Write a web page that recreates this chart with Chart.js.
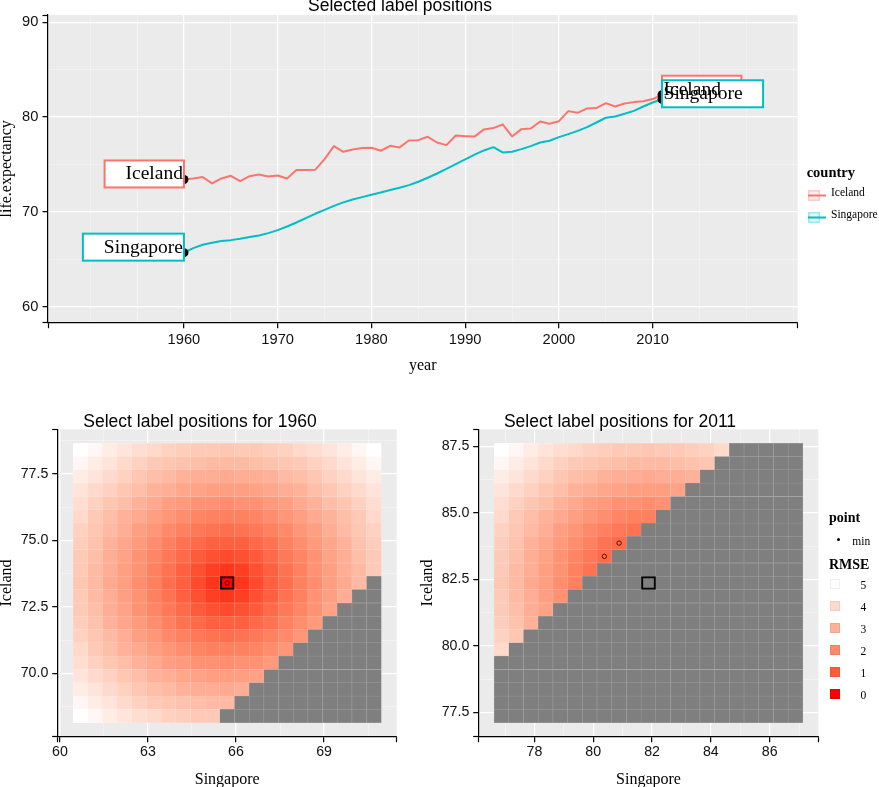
<!DOCTYPE html>
<html>
<head>
<meta charset="utf-8">
<script src="https://cdn.jsdelivr.net/npm/chart.js@4.4.1/dist/chart.umd.min.js"></script>
<style>
  body { margin: 0; background: #fff; width: 879px; height: 787px; position: relative; overflow: hidden; }
  canvas { position: absolute; }
  .t { position: absolute; white-space: nowrap; line-height: 1; color: #000; }
  .sans { font-family: "Liberation Sans", Arial, sans-serif; }
  .serif { font-family: "Liberation Serif", "Times New Roman", serif; }
</style>
</head>
<body>
<canvas id="lineChart" width="879" height="390" style="left:0;top:0"></canvas>
<canvas id="heat1960" width="430" height="387" style="left:0;top:400px"></canvas>
<canvas id="heat2011" width="464" height="387" style="left:415px;top:400px"></canvas>

<div class="t sans" style="left:400px;top:-3px;font-size:17.5px;transform:translateX(-50%)">Selected label positions</div>
<div class="t sans" style="left:200px;top:412.5px;font-size:17.5px;transform:translateX(-50%)">Select label positions for 1960</div>
<div class="t sans" style="left:620px;top:412.5px;font-size:17.5px;transform:translateX(-50%)">Select label positions for 2011</div>
<div id="legendTop"></div>
<div id="legendHeat"></div>

<script>
// life expectancy
const years = [1960, 1961, 1962, 1963, 1964, 1965, 1966, 1967, 1968, 1969,
  1970, 1971, 1972, 1973, 1974, 1975, 1976, 1977, 1978, 1979,
  1980, 1981, 1982, 1983, 1984, 1985, 1986, 1987, 1988, 1989,
  1990, 1991, 1992, 1993, 1994, 1995, 1996, 1997, 1998, 1999,
  2000, 2001, 2002, 2003, 2004, 2005, 2006, 2007, 2008, 2009,
  2010, 2011];
const iceland = [73.42, 73.53, 73.67, 73.00, 73.53, 73.81, 73.25, 73.77, 73.95, 73.74,
  73.84, 73.53, 74.41, 74.41, 74.44, 75.57, 76.94, 76.34, 76.59, 76.73,
  76.76, 76.45, 76.97, 76.80, 77.53, 77.57, 77.92, 77.32, 77.04, 78.06,
  77.99, 77.94, 78.70, 78.84, 79.22, 77.96, 78.73, 78.80, 79.54, 79.29,
  79.57, 80.63, 80.45, 80.91, 80.95, 81.47, 81.12, 81.44, 81.58, 81.68,
  81.90, 82.36];
const singapore = [65.70, 66.18, 66.53, 66.74, 66.92, 67.02, 67.16, 67.34, 67.51, 67.76,
  68.08, 68.46, 68.88, 69.34, 69.80, 70.22, 70.64, 71.00, 71.31, 71.56,
  71.80, 72.05, 72.30, 72.54, 72.82, 73.18, 73.60, 74.05, 74.53, 75.04,
  75.55, 76.04, 76.48, 76.83, 76.27, 76.34, 76.62, 76.94, 77.32, 77.50,
  77.89, 78.20, 78.55, 78.94, 79.43, 79.93, 80.07, 80.35, 80.66, 81.12,
  81.54, 81.88];
const countries = ['Iceland', 'Singapore'];
const countryColors = ['#F8766D', '#00BFC4'];
const labelYears = [1960, 2011];

// top panel axes
const yearRange = [1945.5, 2025.45];
const yearMajor = [1960, 1970, 1980, 1990, 2000, 2010];
const yearMinor = [1950, 1955, 1965, 1975, 1985, 1995, 2005, 2015, 2020, 2025];
const lifeRange = [58.31, 90.77];
const lifeMajor = [60, 70, 80, 90];
const lifeMinor = [65, 75, 85];

// heatmap grids: candidate label positions (Singapore across, Iceland up)
const sing1960 = [60.7, 61.2, 61.7, 62.2, 62.7, 63.2, 63.7, 64.2, 64.7, 65.2, 65.7,
  66.2, 66.7, 67.2, 67.7, 68.2, 68.7, 69.2, 69.7, 70.2, 70.7];
const ice1960 = [68.4, 68.9, 69.4, 69.9, 70.4, 70.9, 71.4, 71.9, 72.4, 72.9, 73.4,
  73.9, 74.4, 74.9, 75.4, 75.9, 76.4, 76.9, 77.4, 77.9, 78.4];
const sing2011 = [76.88, 77.38, 77.88, 78.38, 78.88, 79.38, 79.88, 80.38, 80.88, 81.38, 81.88,
  82.38, 82.88, 83.38, 83.88, 84.38, 84.88, 85.38, 85.88, 86.38, 86.88];
const ice2011 = [77.36, 77.86, 78.36, 78.86, 79.36, 79.86, 80.36, 80.86, 81.36, 81.86, 82.36,
  82.86, 83.36, 83.86, 84.36, 84.86, 85.36, 85.86, 86.36, 86.86, 87.36];

// RMSE per cell, rows from the lowest Iceland value up; NA = grey (not allowed)
const NA = null;
const rmse1960 = [
  [5.0,4.8,4.5,4.3,4.1,4.0,3.8,3.7,3.6,3.6,NA,NA,NA,NA,NA,NA,NA,NA,NA,NA,NA],
  [4.8,4.5,4.3,4.0,3.8,3.6,3.5,3.4,3.3,3.2,3.2,NA,NA,NA,NA,NA,NA,NA,NA,NA,NA],
  [4.5,4.3,4.0,3.8,3.5,3.3,3.2,3.0,2.9,2.9,2.8,2.9,NA,NA,NA,NA,NA,NA,NA,NA,NA],
  [4.3,4.0,3.8,3.5,3.3,3.0,2.9,2.7,2.6,2.5,2.5,2.5,2.6,NA,NA,NA,NA,NA,NA,NA,NA],
  [4.1,3.8,3.5,3.3,3.0,2.8,2.5,2.4,2.2,2.2,2.1,2.2,2.2,2.4,NA,NA,NA,NA,NA,NA,NA],
  [4.0,3.6,3.3,3.0,2.8,2.5,2.3,2.1,1.9,1.8,1.8,1.8,1.9,2.1,2.3,NA,NA,NA,NA,NA,NA],
  [3.8,3.5,3.2,2.9,2.5,2.3,2.0,1.8,1.6,1.5,1.4,1.5,1.6,1.8,2.0,2.3,NA,NA,NA,NA,NA],
  [3.7,3.4,3.0,2.7,2.4,2.1,1.8,1.5,1.3,1.1,1.1,1.1,1.3,1.5,1.8,2.1,2.4,NA,NA,NA,NA],
  [3.6,3.3,2.9,2.6,2.2,1.9,1.6,1.3,1.0,0.8,0.7,0.8,1.0,1.3,1.6,1.9,2.2,2.6,NA,NA,NA],
  [3.6,3.2,2.9,2.5,2.2,1.8,1.5,1.1,0.8,0.5,0.4,0.5,0.8,1.1,1.5,1.8,2.2,2.5,2.9,NA,NA],
  [3.5,3.2,2.8,2.5,2.1,1.8,1.4,1.1,0.7,0.4,0.0,0.4,0.7,1.1,1.4,1.8,2.1,2.5,2.8,3.2,NA],
  [3.6,3.2,2.9,2.5,2.2,1.8,1.5,1.1,0.8,0.5,0.4,0.5,0.8,1.1,1.5,1.8,2.2,2.5,2.9,3.2,3.6],
  [3.6,3.3,2.9,2.6,2.2,1.9,1.6,1.3,1.0,0.8,0.7,0.8,1.0,1.3,1.6,1.9,2.2,2.6,2.9,3.3,3.6],
  [3.7,3.4,3.0,2.7,2.4,2.1,1.8,1.5,1.3,1.1,1.1,1.1,1.3,1.5,1.8,2.1,2.4,2.7,3.0,3.4,3.7],
  [3.8,3.5,3.2,2.9,2.5,2.3,2.0,1.8,1.6,1.5,1.4,1.5,1.6,1.8,2.0,2.3,2.5,2.9,3.2,3.5,3.8],
  [4.0,3.6,3.3,3.0,2.8,2.5,2.3,2.1,1.9,1.8,1.8,1.8,1.9,2.1,2.3,2.5,2.8,3.0,3.3,3.6,4.0],
  [4.1,3.8,3.5,3.3,3.0,2.8,2.5,2.4,2.2,2.2,2.1,2.2,2.2,2.4,2.5,2.8,3.0,3.3,3.5,3.8,4.1],
  [4.3,4.0,3.8,3.5,3.3,3.0,2.9,2.7,2.6,2.5,2.5,2.5,2.6,2.7,2.9,3.0,3.3,3.5,3.8,4.0,4.3],
  [4.5,4.3,4.0,3.8,3.5,3.3,3.2,3.0,2.9,2.9,2.8,2.9,2.9,3.0,3.2,3.3,3.5,3.8,4.0,4.3,4.5],
  [4.8,4.5,4.3,4.0,3.8,3.6,3.5,3.4,3.3,3.2,3.2,3.2,3.3,3.4,3.5,3.6,3.8,4.0,4.3,4.5,4.8],
  [5.0,4.8,4.5,4.3,4.1,4.0,3.8,3.7,3.6,3.6,3.5,3.6,3.6,3.7,3.8,4.0,4.1,4.3,4.5,4.8,5.0]
];
const rmse2011 = [
  [NA,NA,NA,NA,NA,NA,NA,NA,NA,NA,NA,NA,NA,NA,NA,NA,NA,NA,NA,NA,NA],
  [NA,NA,NA,NA,NA,NA,NA,NA,NA,NA,NA,NA,NA,NA,NA,NA,NA,NA,NA,NA,NA],
  [NA,NA,NA,NA,NA,NA,NA,NA,NA,NA,NA,NA,NA,NA,NA,NA,NA,NA,NA,NA,NA],
  [NA,NA,NA,NA,NA,NA,NA,NA,NA,NA,NA,NA,NA,NA,NA,NA,NA,NA,NA,NA,NA],
  [NA,NA,NA,NA,NA,NA,NA,NA,NA,NA,NA,NA,NA,NA,NA,NA,NA,NA,NA,NA,NA],
  [4.0,NA,NA,NA,NA,NA,NA,NA,NA,NA,NA,NA,NA,NA,NA,NA,NA,NA,NA,NA,NA],
  [3.8,3.5,NA,NA,NA,NA,NA,NA,NA,NA,NA,NA,NA,NA,NA,NA,NA,NA,NA,NA,NA],
  [3.7,3.4,3.0,NA,NA,NA,NA,NA,NA,NA,NA,NA,NA,NA,NA,NA,NA,NA,NA,NA,NA],
  [3.6,3.3,2.9,2.6,NA,NA,NA,NA,NA,NA,NA,NA,NA,NA,NA,NA,NA,NA,NA,NA,NA],
  [3.6,3.2,2.9,2.5,2.2,NA,NA,NA,NA,NA,NA,NA,NA,NA,NA,NA,NA,NA,NA,NA,NA],
  [3.5,3.2,2.8,2.5,2.1,1.8,NA,NA,NA,NA,NA,NA,NA,NA,NA,NA,NA,NA,NA,NA,NA],
  [3.6,3.2,2.9,2.5,2.2,1.8,1.5,NA,NA,NA,NA,NA,NA,NA,NA,NA,NA,NA,NA,NA,NA],
  [3.6,3.3,2.9,2.6,2.2,1.9,1.6,1.3,NA,NA,NA,NA,NA,NA,NA,NA,NA,NA,NA,NA,NA],
  [3.7,3.4,3.0,2.7,2.4,2.1,1.8,1.5,1.3,NA,NA,NA,NA,NA,NA,NA,NA,NA,NA,NA,NA],
  [3.8,3.5,3.2,2.9,2.5,2.3,2.0,1.8,1.6,1.5,NA,NA,NA,NA,NA,NA,NA,NA,NA,NA,NA],
  [4.0,3.6,3.3,3.0,2.8,2.5,2.3,2.1,1.9,1.8,1.8,NA,NA,NA,NA,NA,NA,NA,NA,NA,NA],
  [4.1,3.8,3.5,3.3,3.0,2.8,2.5,2.4,2.2,2.2,2.1,2.2,NA,NA,NA,NA,NA,NA,NA,NA,NA],
  [4.3,4.0,3.8,3.5,3.3,3.0,2.9,2.7,2.6,2.5,2.5,2.5,2.6,NA,NA,NA,NA,NA,NA,NA,NA],
  [4.5,4.3,4.0,3.8,3.5,3.3,3.2,3.0,2.9,2.9,2.8,2.9,2.9,3.0,NA,NA,NA,NA,NA,NA,NA],
  [4.8,4.5,4.3,4.0,3.8,3.6,3.5,3.4,3.3,3.2,3.2,3.2,3.3,3.4,3.5,NA,NA,NA,NA,NA,NA],
  [5.0,4.8,4.5,4.3,4.1,4.0,3.8,3.7,3.6,3.6,3.5,3.6,3.6,3.7,3.8,4.0,NA,NA,NA,NA,NA]
];
// actual label positions (square) and best positions (circles)
const selected1960 = {x: 65.7, y: 73.4};
const selected2011 = {x: 81.88, y: 82.36};
const best1960 = [{x: 65.7, y: 73.4}];
const best2011 = [{x: 80.38, y: 83.36}, {x: 80.88, y: 83.86}];

// heatmap axes
const h1SingRange = [59.925, 71.475];
const h1SingMajor = [60, 63, 66, 69];
const h1SingMinor = [61.5, 64.5, 67.5, 70.5];
const h1IceRange = [67.625, 79.175];
const h1IceMajor = [70, 72.5, 75, 77.5];
const h1IceMinor = [68.75, 71.25, 73.75, 76.25, 78.75];
const h2SingRange = [76.105, 87.655];
const h2SingMajor = [78, 80, 82, 84, 86];
const h2SingMinor = [77, 79, 81, 83, 85, 87];
const h2IceRange = [76.585, 88.135];
const h2IceMajor = [77.5, 80, 82.5, 85, 87.5];
const h2IceMinor = [78.75, 81.25, 83.75, 86.25];
const rmseBreaks = [5, 4, 3, 2, 1, 0];

const SANS = '"Liberation Sans", Arial, sans-serif';
const SERIF = '"Liberation Serif", "Times New Roman", serif';

// red (0) -> white (5), interpolated in Lab like ggplot
const RED_LAB = [53.24, 80.09, 67.20];
const WHITE_LAB = [100, 0, 0];
function lab2rgb(L, a, b) {
    const fy = (L + 16) / 116, fx = fy + a / 500, fz = fy - b / 200;
    const f = t => t > 0.206897 ? t * t * t : (t - 16 / 116) / 7.787;
    const X = 0.95047 * f(fx), Y = f(fy), Z = 1.08883 * f(fz);
    const lin = [3.2406 * X - 1.5372 * Y - 0.4986 * Z,
                 -0.9689 * X + 1.8758 * Y + 0.0415 * Z,
                 0.0557 * X - 0.2040 * Y + 1.0570 * Z];
    return lin.map(c => {
        c = Math.max(0, Math.min(1, c));
        return Math.round(255 * (c <= 0.0031308 ? 12.92 * c : 1.055 * Math.pow(c, 1 / 2.4) - 0.055));
    });
}
function rgbFor(v) {
    if (v === null) return [127, 127, 127];
    const t = v / 5;
    return lab2rgb(...RED_LAB.map((r, i) => r + (WHITE_LAB[i] - r) * t));
}
const fillColor = v => `rgb(${rgbFor(v)})`;
const edgeColor = v => `rgb(${rgbFor(v).map(u => Math.round(u + (255 - u) * 0.3))})`;

const near = (a, b) => Math.abs(a - b) < 1e-6;

function makeAxis(o) {
    const isMajor = v => o.major.some(m => near(m, v));
    const isMinor = v => o.minor.some(m => near(m, v));
    const tv = c => c.tick ? c.tick.value : NaN;
    return {
        type: 'linear',
        min: o.range[0],
        max: o.range[1],
        offset: false,
        stacked: o.stacked,
        afterBuildTicks: s => {
            s.ticks = [o.range[0], ...o.minor, ...o.major, o.range[1]]
                .sort((a, b) => a - b).map(v => ({value: v}));
        },
        afterFit: s => { if (o.isX) s.height = o.size; else s.width = o.size; },
        grid: {
            offset: false,
            color: c => isMajor(tv(c)) ? '#ffffff' : isMinor(tv(c)) ? 'rgba(255,255,255,0.55)' : 'rgba(0,0,0,0)',
            lineWidth: c => isMajor(tv(c)) ? 1.3 : 0.7,
            tickColor: c => isMinor(tv(c)) ? 'rgba(0,0,0,0)' : '#000',
            tickWidth: 1.2,
            tickLength: 5.5,
            drawTicks: true
        },
        border: {display: true, color: '#000', width: 1.2},
        ticks: {
            autoSkip: false, maxRotation: 0, padding: o.pad, color: '#111',
            font: {family: SANS, size: o.fontSize},
            callback: v => isMajor(v) ? o.fmt(v) : ''
        },
        title: {
            display: true, text: o.title, color: '#000',
            font: {family: SERIF, size: 16, lineHeight: o.titleLH},
            padding: o.titlePad
        }
    };
}

const panelBg = {
    id: 'panelBg',
    beforeDraw(chart) {
        const {ctx, chartArea: a} = chart;
        ctx.save();
        ctx.fillStyle = '#EBEBEB';
        ctx.fillRect(a.left, a.top, a.width, a.height);
        ctx.restore();
    }
};

// boxed direct labels at the first and last year
const labelBoxes = {
    id: 'labelBoxes',
    afterDatasetsDraw(chart) {
        const {ctx, scales: {x, y}} = chart;
        const series = [iceland, singapore];
        ctx.save();
        ctx.font = '19.5px ' + SERIF;
        const items = [];
        labelYears.forEach((yr, j) => {
            const i = years.indexOf(yr);
            series.forEach((s, c) => {
                const px = x.getPixelForValue(yr), py = y.getPixelForValue(s[i]);
                const w = ctx.measureText(countries[c]).width + 22;
                items.push({c, px, py, w, first: j === 0, left: j === 0 ? px - w : px});
            });
        });
        items.forEach(it => {
            ctx.fillStyle = '#fff';
            ctx.fillRect(it.left, it.py - 19, it.w, 27);
            ctx.strokeStyle = countryColors[it.c];
            ctx.lineWidth = 2;
            ctx.strokeRect(it.left, it.py - 19, it.w, 27);
        });
        ctx.fillStyle = '#000';
        ctx.textBaseline = 'alphabetic';
        items.forEach(it => {
            ctx.textAlign = it.first ? 'right' : 'left';
            ctx.fillText(countries[it.c], it.first ? it.px - 1 : it.px + 1.5, it.py);
        });
        ctx.restore();
    }
};

const labelPoints = labelYears.flatMap(yr =>
    [iceland, singapore].map(s => ({x: yr, y: s[years.indexOf(yr)]})));

new Chart(document.getElementById('lineChart'), {
    type: 'line',
    data: {
        datasets: [
            {
                type: 'scatter', label: 'label points', data: labelPoints,
                pointRadius: 4.5, pointBackgroundColor: '#000', pointBorderWidth: 0, order: 0
            },
            {
                label: 'Singapore', data: years.map((yr, i) => ({x: yr, y: singapore[i]})),
                borderColor: countryColors[1], borderWidth: 2, pointRadius: 0, tension: 0,
                borderJoinStyle: 'round', order: 1
            },
            {
                label: 'Iceland', data: years.map((yr, i) => ({x: yr, y: iceland[i]})),
                borderColor: countryColors[0], borderWidth: 2, pointRadius: 0, tension: 0,
                borderJoinStyle: 'round', order: 2
            }
        ]
    },
    options: {
        responsive: false,
        animation: false,
        layout: {padding: {top: 15, right: 81.5, left: 0, bottom: 0}},
        plugins: {legend: {display: false}, tooltip: {enabled: false}},
        scales: {
            x: makeAxis({range: yearRange, major: yearMajor, minor: yearMinor, fmt: v => String(v),
                isX: true, size: 67.3, pad: 3, fontSize: 14.7, title: 'year', titleLH: 1.2,
                titlePad: {top: 0, bottom: 14.5}}),
            y: makeAxis({range: lifeRange, major: lifeMajor, minor: lifeMinor, fmt: v => String(v),
                isX: false, size: 48, pad: 4.2, fontSize: 14.7, title: 'life.expectancy', titleLH: 0.8,
                titlePad: {top: 0.8, bottom: 0}})
        }
    },
    plugins: [panelBg, labelBoxes]
});

function heatDatasets(sing, ice, rmse, sel, best) {
    // one bar dataset per grid row, all in one stack so each cell gets the full column width
    const barOpts = {type: 'bar', stack: 'grid', borderSkipped: false,
        barThickness: 'flex', barPercentage: 1, categoryPercentage: 1};
    const tiles = ice.map((iy, k) => Object.assign({}, barOpts, {
        label: 'tiles ' + iy,
        data: sing.map(sx => ({x: sx, y: [iy - 0.25, iy + 0.25]})),
        backgroundColor: rmse[k].map(fillColor),
        borderColor: rmse[k].map(edgeColor),
        borderWidth: 0.5,
        order: 3
    }));
    const square = Object.assign({}, barOpts, {
        label: 'selected',
        data: sing.map(sx => ({x: sx, y: [sel.y - 0.25, sel.y + 0.25]})),
        backgroundColor: 'rgba(0,0,0,0)',
        borderColor: sing.map(sx => near(sx, sel.x) ? '#000' : 'rgba(0,0,0,0)'),
        borderWidth: 2,
        inflateAmount: 0,
        order: 1
    });
    const mins = {
        type: 'scatter', label: 'min', data: best,
        pointRadius: 2.2, pointBorderWidth: 1, pointBorderColor: 'rgba(60,0,0,0.85)',
        pointBackgroundColor: 'rgba(0,0,0,0)', order: 0
    };
    return [mins, square, ...tiles];
}

function heatChart(id, cfg) {
    return new Chart(document.getElementById(id), {
        type: 'bar',
        data: {datasets: heatDatasets(cfg.sing, cfg.ice, cfg.rmse, cfg.sel, cfg.best)},
        options: {
            responsive: false,
            animation: false,
            layout: {padding: {top: 29.3, right: cfg.padRight, left: 0, bottom: 0}},
            plugins: {legend: {display: false}, tooltip: {enabled: false}},
            scales: {
                x: makeAxis({range: cfg.xRange, major: cfg.xMajor, minor: cfg.xMinor, fmt: v => String(v),
                    isX: true, size: 50.3, pad: 1.5, fontSize: 14.2, title: 'Singapore', titleLH: 0.94,
                    titlePad: {top: 0, bottom: 0}}),
                y: makeAxis({range: cfg.yRange, major: cfg.yMajor, minor: cfg.yMinor, fmt: v => v.toFixed(1),
                    isX: false, size: cfg.ySize, pad: 3.9, fontSize: 14.2, title: 'Iceland', titleLH: cfg.yTitleLH,
                    titlePad: {top: cfg.yTitlePad, bottom: 0}, stacked: false})
            }
        },
        plugins: [panelBg]
    });
}

heatChart('heat1960', {sing: sing1960, ice: ice1960, rmse: rmse1960, sel: selected1960, best: best1960,
    xRange: h1SingRange, xMajor: h1SingMajor, xMinor: h1SingMinor,
    yRange: h1IceRange, yMajor: h1IceMajor, yMinor: h1IceMinor,
    ySize: 57.7, padRight: 33.3, yTitleLH: 0.8, yTitlePad: 0.2});
heatChart('heat2011', {sing: sing2011, ice: ice2011, rmse: rmse2011, sel: selected2011, best: best2011,
    xRange: h2SingRange, xMajor: h2SingMajor, xMinor: h2SingMinor,
    yRange: h2IceRange, yMajor: h2IceMajor, yMinor: h2IceMinor,
    ySize: 63.7, padRight: 60.7, yTitleLH: 1.2, yTitlePad: 2.7});

// legends
function addText(parent, text, cls, left, top, size, extra) {
    const d = document.createElement('div');
    d.className = 't ' + cls;
    d.textContent = text;
    d.style.cssText = `left:${left}px;top:${top}px;font-size:${size}px;` + (extra || '');
    parent.appendChild(d);
    return d;
}
const legendTop = document.getElementById('legendTop');
addText(legendTop, 'country', 'serif', 806.7, 164.6, 14.5, 'font-weight:bold');
countries.forEach((name, i) => {
    const col = countryColors[i];
    const key = document.createElement('div');
    key.style.cssText = `position:absolute;left:808px;top:${187 + 22 * i}px;width:18px;height:11px`;
    key.innerHTML = `<svg width="18" height="11"><rect x="0.75" y="0.75" width="10.5" height="9.5" fill="${col}" fill-opacity="0.12" stroke="${col}" stroke-opacity="0.35" stroke-width="1.5"/><line x1="0" x2="18" y1="5.5" y2="5.5" stroke="${col}" stroke-width="2"/></svg>`;
    legendTop.appendChild(key);
    addText(legendTop, name, 'serif', 831, 186.9 + 22 * i, 11.5);
});

const legendHeat = document.getElementById('legendHeat');
addText(legendHeat, 'point', 'serif', 829, 510.8, 14, 'font-weight:bold');
const dot = document.createElement('div');
dot.style.cssText = 'position:absolute;left:836.5px;top:537.5px;width:3.6px;height:3.6px;border-radius:50%;background:#000';
legendHeat.appendChild(dot);
addText(legendHeat, 'min', 'serif', 852.3, 535.7, 11.5);
addText(legendHeat, 'RMSE', 'serif', 829, 558, 14, 'font-weight:bold');
rmseBreaks.forEach((v, i) => {
    const sq = document.createElement('div');
    sq.style.cssText = `position:absolute;left:830px;top:${579 + 22 * i}px;width:10px;height:10px;background:${fillColor(v)};box-shadow:inset 0 0 0 1px rgba(0,0,0,0.06)`;
    legendHeat.appendChild(sq);
    addText(legendHeat, String(v), 'serif', 863.3, 580.4 + 22 * i, 11.5, 'transform:translateX(-50%)');
});
</script>
</body>
</html>
